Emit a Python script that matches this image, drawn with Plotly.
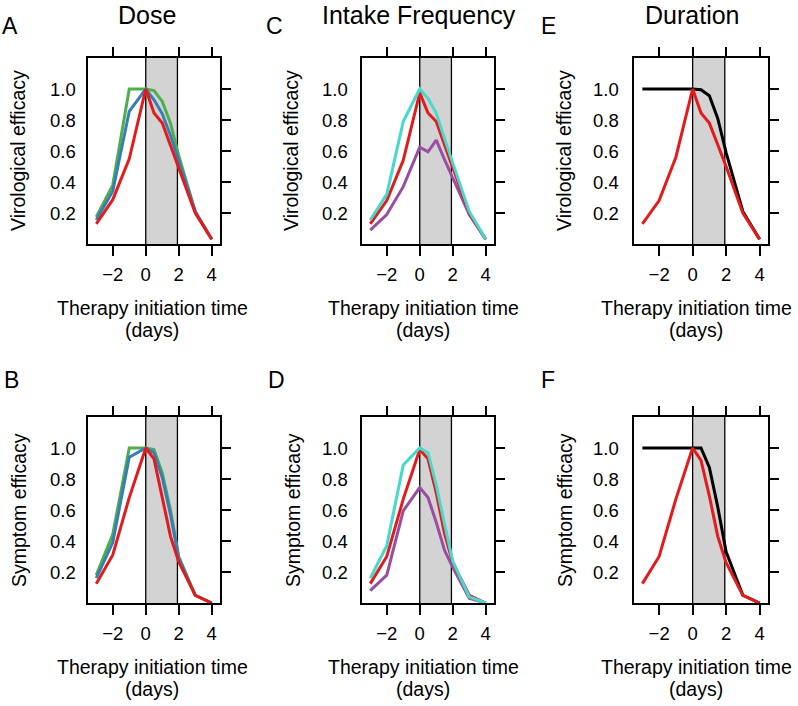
import plotly.graph_objects as go

W, H = 798, 706

# ---------------- data ----------------
X = [-3, -2, -1, 0, 0.5, 1, 1.5, 2, 3, 4]

# Panel A (Dose, virological)
A_green = [0.175, 0.38, 1.0, 1.0, 0.99, 0.92, 0.78, 0.57, 0.21, 0.03]
A_blue = [0.155, 0.34, 0.855, 1.0, 0.93, 0.84, 0.70, 0.54, 0.21, 0.03]
A_red = [0.13, 0.286, 0.55, 1.0, 0.845, 0.78, 0.635, 0.49, 0.20, 0.03]
# Panel C (Intake frequency, virological)
C_purple = [0.09, 0.19, 0.37, 0.625, 0.595, 0.67, 0.545, 0.43, 0.19, 0.03]
C_red = [0.13, 0.28, 0.54, 0.975, 0.845, 0.79, 0.64, 0.49, 0.20, 0.03]
C_cyan = [0.155, 0.32, 0.79, 1.0, 0.94, 0.845, 0.68, 0.52, 0.21, 0.03]
# Panel E (Duration, virological)
E_black = [1.0, 1.0, 1.0, 1.0, 0.995, 0.957, 0.81, 0.59, 0.21, 0.03]
E_red = [0.13, 0.28, 0.56, 1.0, 0.845, 0.78, 0.64, 0.50, 0.20, 0.03]
# Panel B (Dose, symptom)
B_green = [0.18, 0.443, 1.0, 1.0, 0.99, 0.84, 0.60, 0.30, 0.05, 0.0]
B_blue = [0.16, 0.39, 0.94, 1.0, 0.97, 0.81, 0.57, 0.29, 0.05, 0.0]
B_red = [0.125, 0.31, 0.68, 1.0, 0.93, 0.69, 0.43, 0.265, 0.05, 0.0]
# Panel D (Intake frequency, symptom)
D_purple = [0.08, 0.18, 0.595, 0.745, 0.68, 0.52, 0.34, 0.23, 0.03, 0.0]
D_red = [0.125, 0.30, 0.67, 0.99, 0.93, 0.71, 0.45, 0.26, 0.05, 0.0]
D_cyan = [0.16, 0.37, 0.89, 1.0, 0.97, 0.76, 0.51, 0.27, 0.04, 0.0]
# Panel F (Duration, symptom)
F_black = [1.0, 1.0, 1.0, 1.0, 1.0, 0.875, 0.62, 0.33, 0.05, 0.0]
F_red = [0.125, 0.30, 0.67, 1.0, 0.92, 0.69, 0.43, 0.26, 0.05, 0.0]

X_TICKS = [-2, 0, 2, 4]
Y_TICKS = [0.2, 0.4, 0.6, 0.8, 1.0]
Y_TICK_LABELS = ["0.2", "0.4", "0.6", "0.8", "1.0"]
X_RANGE = [-3.5, 4.5]
Y_RANGE = [0.0, 1.2]
SHADE = [0, 1.92]

COL_TITLES = ["Dose", "Intake Frequency", "Duration"]
ROW_YTITLES = ["Virological efficacy", "Symptom efficacy"]
LETTERS = [["A", "C", "E"], ["B", "D", "F"]]
XTITLE_1 = "Therapy initiation time"
XTITLE_2 = "(days)"

RED = "#E41A1C"
BLUE = "#377EB8"
GREEN = "#4DAF4A"
PURPLE = "#984EA3"
CYAN = "#46DACC"
BLACK = "#000000"

panels = [
    [[(A_green, GREEN), (A_blue, BLUE), (A_red, RED)],
     [(C_purple, PURPLE), (C_red, RED), (C_cyan, CYAN)],
     [(E_black, BLACK), (E_red, RED)]],
    [[(B_green, GREEN), (B_blue, BLUE), (B_red, RED)],
     [(D_purple, PURPLE), (D_red, RED), (D_cyan, CYAN)],
     [(F_black, BLACK), (F_red, RED)]],
]

# ---------------- layout geometry (pixels) ----------------
COL_PX = [(88, 220), (362, 494), (634, 768)]
ROW_PX = [(58, 244), (417, 603)]
YLAB_GAP = [11, 13, 14]
XTITLE_X = [152, 423, 696]
XTITLE_DY = [64, 86]
YTITLE_X = [[18, 291, 564], [19, 293, 565]]
LETTER_X = [[10, 274, 548], [11, 276, 548]]
LETTER_Y = [26, 380]
TITLE_X = [147, 419, 692]

FONT = "Liberation Sans"

fig = go.Figure()
layout = dict(
    width=W, height=H, margin=dict(l=0, r=0, t=0, b=0),
    paper_bgcolor="white", plot_bgcolor="white", showlegend=False,
    font=dict(family=FONT, color="black", size=18),
)
shapes = []
annotations = []

idx = 0
for r in range(2):
    for c in range(3):
        idx += 1
        xa = "x" if idx == 1 else f"x{idx}"
        ya = "y" if idx == 1 else f"y{idx}"
        xdom = [COL_PX[c][0] / W, COL_PX[c][1] / W]
        ydom = [1 - ROW_PX[r][1] / H, 1 - ROW_PX[r][0] / H]
        # base axes
        layout[f"xaxis{idx}"] = dict(
            domain=xdom, anchor=ya, range=X_RANGE, tickvals=X_TICKS,
            ticks="outside", ticklen=10, tickwidth=2, tickcolor="black",
            showline=True, linewidth=2, linecolor="black", mirror=True,
            showgrid=False, zeroline=False, tickfont=dict(size=18.5),
            ticklabelstandoff=3,
        )
        layout[f"yaxis{idx}"] = dict(
            domain=ydom, anchor=xa, range=Y_RANGE, tickvals=Y_TICKS,
            ticks="", showticklabels=False,
            showline=True, linewidth=2, linecolor="black", mirror=True,
            showgrid=False, zeroline=False,
        )
        # extra axes for top / right tick marks
        tx = idx + 6
        layout[f"xaxis{tx}"] = dict(
            overlaying=xa, side="top", anchor=ya, range=X_RANGE,
            tickvals=X_TICKS, showticklabels=False,
            ticks="outside", ticklen=10, tickwidth=2, tickcolor="black",
            showline=False, showgrid=False, zeroline=False,
        )
        layout[f"yaxis{tx}"] = dict(
            overlaying=ya, side="right", anchor=xa, range=Y_RANGE,
            tickvals=Y_TICKS, showticklabels=False,
            ticks="outside", ticklen=10, tickwidth=2, tickcolor="black",
            showline=False, showgrid=False, zeroline=False,
        )
        fig.add_trace(go.Scatter(x=[None], y=[None], xaxis=f"x{tx}", yaxis=ya,
                                 hoverinfo="skip", showlegend=False))
        fig.add_trace(go.Scatter(x=[None], y=[None], xaxis=xa, yaxis=f"y{tx}",
                                 hoverinfo="skip", showlegend=False))

        # shaded region with thin vertical bounding lines
        shapes.append(dict(
            type="rect", xref=xa, yref=f"{ya} domain",
            x0=SHADE[0], x1=SHADE[1], y0=0, y1=1,
            fillcolor="#D3D3D3", line=dict(width=0),
            layer="below",
        ))
        for sx in SHADE:
            shapes.append(dict(
                type="line", xref=xa, yref=f"{ya} domain",
                x0=sx, x1=sx, y0=0, y1=1,
                line=dict(color="black", width=1.3), layer="below",
            ))

        for vals, col in panels[r][c]:
            fig.add_trace(go.Scatter(
                x=X, y=vals, mode="lines", xaxis=xa, yaxis=ya,
                line=dict(color=col, width=3), hoverinfo="skip",
            ))

        # y tick labels (placed on the axis' own scale)
        for v, lab in zip(Y_TICKS, Y_TICK_LABELS):
            annotations.append(dict(
                text=lab, xref="paper", yref=ya,
                x=(COL_PX[c][0] - YLAB_GAP[c]) / W, y=v,
                xanchor="right", yanchor="middle", showarrow=False,
                font=dict(size=18.5), borderpad=0,
            ))

        # x-axis title (two lines)
        for txt, dy in zip([XTITLE_1, XTITLE_2], XTITLE_DY):
            annotations.append(dict(
                text=txt, xref="paper", yref="paper",
                x=XTITLE_X[c] / W, y=1 - (ROW_PX[r][1] + dy) / H,
                xanchor="center", yanchor="middle", showarrow=False,
                font=dict(size=19.5),
            ))
        # y-axis title
        annotations.append(dict(
            text=ROW_YTITLES[r], xref="paper", yref="paper",
            x=YTITLE_X[r][c] / W, y=1 - (ROW_PX[r][0] + ROW_PX[r][1]) / 2 / H,
            xanchor="center", yanchor="middle", showarrow=False,
            textangle=-90, font=dict(size=19.5),
        ))
        # panel letter
        annotations.append(dict(
            text=LETTERS[r][c], xref="paper", yref="paper",
            x=LETTER_X[r][c] / W, y=1 - LETTER_Y[r] / H,
            xanchor="center", yanchor="middle", showarrow=False,
            font=dict(size=23),
        ))

for c in range(3):
    annotations.append(dict(
        text=COL_TITLES[c], xref="paper", yref="paper",
        x=TITLE_X[c] / W, y=1 - 15 / H,
        xanchor="center", yanchor="middle", showarrow=False,
        font=dict(size=25),
    ))

layout["shapes"] = shapes
layout["annotations"] = annotations
fig.update_layout(**layout)
fig.write_html(
    "out.html",
    config={"displayModeBar": False},
    post_script="document.body.style.margin='0';document.body.style.overflow='hidden';",
)
